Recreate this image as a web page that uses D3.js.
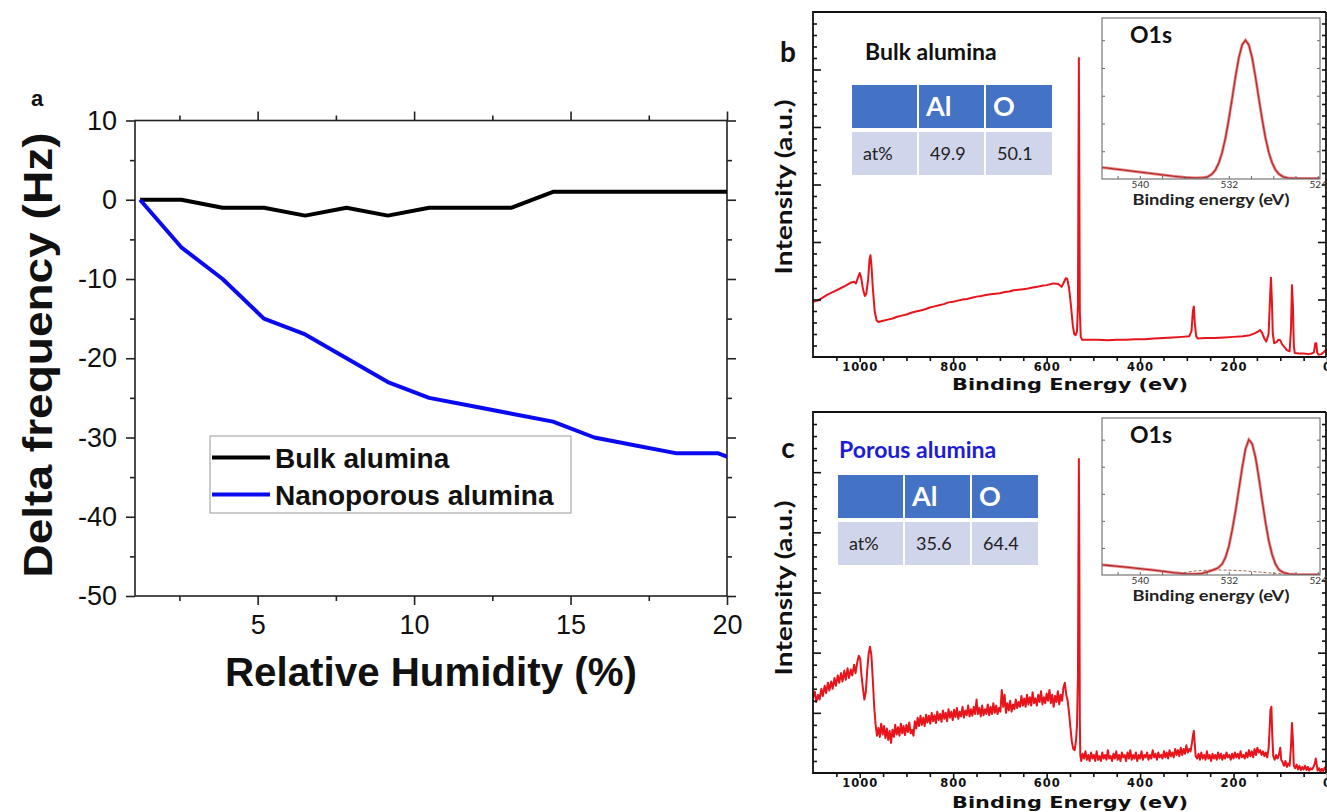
<!DOCTYPE html>
<html>
<head>
<meta charset="utf-8">
<script src="https://cdn.jsdelivr.net/npm/d3@7"></script>
<style>
  body { margin: 0; background: #fff; }
  svg { display: block; }
</style>
</head>
<body>
<script>
// ---------------- data ----------------
// panel a : QCM frequency shift vs relative humidity
const humidity = [1.24, 2.56, 3.88, 5.2, 6.52, 7.84, 9.16, 10.48, 11.8, 13.12, 14.44, 15.76, 17.08, 18.4, 19.72, 21.04];
const bulkShift = [0, 0, -1, -1, -2, -1, -2, -1, -1, -1, 1, 1, 1, 1, 1, 1];
const porousShift = [0, -6, -10, -15, -17, -20, -23, -25, -26, -27, -28, -30, -31, -32, -32, -34];
const seriesNames = ["Bulk alumina", "Nanoporous alumina"];
const rhTicks = [5, 10, 15, 20];
const rhMinor = [2.5, 7.5, 12.5, 17.5];
const dfTicks = [-50, -40, -30, -20, -10, 0, 10];
const dfMinor = [-45, -35, -25, -15, -5, 5];

// panels b, c : XPS survey [binding energy eV, intensity a.u.]
const bulkSurvey = [[1100,0.96],[1090,0.98],[1080,1.03],[1070,1.08],[1060,1.12],[1050,1.16],[1040,1.2],[1030,1.24],[1020,1.29],
 [1012,1.31],[1008,1.28],[1003,1.4],[1000,1.46],[997,1.38],[993,1.18],[989,1.06],[986,1.1],[982,1.35],[979,1.7],[977,1.77],
 [975,1.6],[972,1.2],[968,0.8],[964,0.64],[960,0.61],[950,0.63],[940,0.65],[930,0.67],[920,0.7],[910,0.72],[900,0.74],
 [890,0.77],[880,0.79],[870,0.81],[860,0.83],[850,0.86],[840,0.88],[830,0.9],[820,0.92],[810,0.95],[800,0.96],[790,0.98],
 [780,1.0],[770,1.01],[760,1.03],[750,1.05],[740,1.06],[730,1.08],[720,1.09],[710,1.1],[700,1.11],[690,1.13],[680,1.14],
 [670,1.16],[660,1.17],[650,1.18],[640,1.19],[630,1.21],[620,1.22],[610,1.24],[600,1.25],[590,1.27],[585,1.28],[575,1.27],
 [568,1.22],[563,1.3],[559,1.37],[556,1.36],[552,1.2],[548,0.9],[544,0.55],[541,0.4],[538,0.38],[535,0.45],[533,0.9],
 [532,3.0],[531,5.2],[530,3.0],[529,0.8],[527,0.35],[524,0.3],[510,0.3],[490,0.3],[470,0.29],[450,0.3],[430,0.3],[410,0.31],
 [390,0.31],[370,0.32],[350,0.33],[330,0.34],[310,0.35],[295,0.36],[290,0.45],[287,0.8],[285,0.88],[283,0.6],[280,0.36],
 [277,0.32],[260,0.33],[240,0.33],[220,0.34],[200,0.35],[180,0.36],[165,0.38],[155,0.41],[148,0.44],[143,0.47],[139,0.42],
 [134,0.32],[130,0.27],[125,0.4],[122,1.0],[120,1.38],[118,1.0],[116,0.4],[113,0.24],[108,0.26],[104,0.3],[100,0.29],[96,0.22],
 [91,0.17],[86,0.12],[80,0.1],[77,0.5],[75,1.25],[73,0.9],[71,0.2],[69,0.07],[60,0.06],[50,0.06],[40,0.05],[33,0.06],[28,0.08],
 [25,0.24],[23,0.24],[21,0.08],[18,0.04],[12,0.05],[6,0.09],[2,0.13]];

const porousSurvey = [[1100,1.25],[1096,1.35],[1093,1.18],[1089,1.3],[1086,1.22],[1082,1.4],[1079,1.28],[1075,1.45],[1072,1.33],
 [1068,1.5],[1065,1.37],[1061,1.52],[1058,1.4],[1054,1.58],[1051,1.45],[1047,1.62],[1044,1.5],[1040,1.66],[1037,1.52],[1033,1.7],
 [1030,1.55],[1026,1.74],[1023,1.58],[1019,1.72],[1016,1.62],[1012,1.8],[1009,1.66],[1005,1.85],[1002,1.95],[999,1.9],[996,1.6],
 [993,1.4],[990,1.22],[987,1.35],[984,1.7],[981,1.98],[978,2.1],[975,1.95],[972,1.55],[969,1.1],[966,0.8],[963,0.62],[960,0.75],
 [957,0.6],[954,0.82],[951,0.64],[948,0.78],[945,0.58],[942,0.74],[939,0.55],[936,0.7],[933,0.5],[930,0.72],[927,0.6],[924,0.8],
 [921,0.64],[918,0.76],[915,0.62],[912,0.82],[909,0.66],[906,0.78],[903,0.63],[900,0.8],[897,0.68],[894,0.84],[891,0.66],
 [888,0.72],[885,0.62],[882,0.86],[879,0.74],[876,0.92],[873,0.78],[870,0.95],[867,0.8],[864,0.92],[861,0.78],[858,0.97],
 [855,0.84],[852,0.95],[849,0.82],[846,1.0],[843,0.86],[840,0.96],[837,0.83],[834,1.02],[831,0.88],[828,0.98],[825,0.85],
 [822,1.04],[819,0.9],[816,1.0],[813,0.86],[810,1.06],[807,0.92],[804,1.02],[801,0.88],[798,1.05],[795,0.93],[792,1.08],
 [789,0.9],[786,1.02],[783,0.94],[780,1.1],[777,0.92],[774,1.04],[771,0.96],[768,1.12],[765,0.94],[762,1.06],[759,0.95],
 [756,1.1],[753,0.98],[750,1.22],[747,0.98],[744,1.08],[741,0.94],[738,1.12],[735,0.96],[732,1.06],[729,0.98],[726,1.14],
 [723,0.96],[720,1.1],[717,0.98],[714,1.16],[711,1.0],[708,1.12],[705,0.98],[702,1.08],[699,1.02],[696,1.38],[693,1.1],
 [690,1.3],[687,1.0],[684,1.16],[681,1.04],[678,1.2],[675,1.02],[672,1.14],[669,1.06],[666,1.22],[663,1.08],[660,1.18],
 [657,1.1],[654,1.28],[651,1.12],[648,1.24],[645,1.1],[642,1.3],[639,1.14],[636,1.26],[633,1.12],[630,1.34],[627,1.16],
 [624,1.24],[621,1.12],[618,1.3],[615,1.18],[612,1.36],[609,1.14],[606,1.26],[603,1.16],[600,1.32],[597,1.2],[594,1.38],
 [591,1.16],[588,1.3],[585,1.1],[582,1.28],[579,1.18],[576,1.36],[573,1.14],[570,1.3],[567,1.2],[564,1.42],[561,1.5],
 [558,1.3],[555,1.2],[552,1.0],[549,0.75],[546,0.52],[543,0.4],[540,0.38],[537,0.55],[535,0.8],[533,1.6],[532,3.5],[531,5.22],
 [530,3.5],[529,0.9],[528,0.3],[526,0.2],[523,0.32],[520,0.24],[517,0.36],[514,0.22],[511,0.3],[508,0.2],[505,0.34],[502,0.24],
 [499,0.3],[496,0.2],[493,0.36],[490,0.22],[487,0.28],[484,0.2],[481,0.34],[478,0.24],[475,0.3],[472,0.22],[469,0.38],[466,0.24],
 [463,0.28],[460,0.2],[457,0.32],[454,0.24],[451,0.36],[448,0.22],[445,0.3],[442,0.2],[439,0.34],[436,0.26],[433,0.3],[430,0.2],
 [427,0.34],[424,0.24],[421,0.38],[418,0.22],[415,0.3],[412,0.24],[409,0.34],[406,0.2],[403,0.3],[400,0.24],[397,0.36],[394,0.22],
 [391,0.3],[388,0.26],[385,0.34],[382,0.22],[379,0.3],[376,0.24],[373,0.38],[370,0.26],[367,0.32],[364,0.22],[361,0.34],[358,0.26],
 [355,0.3],[352,0.24],[349,0.36],[346,0.26],[343,0.34],[340,0.24],[337,0.38],[334,0.28],[331,0.34],[328,0.26],[325,0.4],[322,0.3],
 [319,0.38],[316,0.28],[313,0.42],[310,0.3],[307,0.4],[304,0.32],[301,0.46],[298,0.34],[295,0.4],[292,0.36],[289,0.5],[287,0.62],
 [285,0.7],[283,0.48],[281,0.28],[278,0.24],[275,0.32],[272,0.22],[269,0.34],[266,0.24],[263,0.3],[260,0.22],[257,0.36],[254,0.24],
 [251,0.3],[248,0.2],[245,0.32],[242,0.24],[239,0.3],[236,0.22],[233,0.34],[230,0.24],[227,0.32],[224,0.22],[221,0.3],[218,0.24],
 [215,0.34],[212,0.26],[209,0.3],[206,0.22],[203,0.32],[200,0.24],[197,0.34],[194,0.26],[191,0.32],[188,0.24],[185,0.36],[182,0.26],
 [179,0.3],[176,0.24],[173,0.34],[170,0.26],[167,0.38],[164,0.28],[161,0.36],[158,0.26],[155,0.4],[152,0.3],[149,0.42],[146,0.34],
 [143,0.38],[140,0.3],[137,0.36],[134,0.28],[131,0.34],[128,0.26],[125,0.4],[123,0.7],[121,1.05],[119,1.1],[117,0.6],[115,0.28],
 [112,0.22],[109,0.3],[106,0.24],[103,0.3],[100,0.42],[98,0.22],[95,0.18],[92,0.12],[89,0.2],[86,0.1],[83,0.16],[80,0.12],
 [77,0.45],[75,0.83],[73,0.55],[71,0.12],[68,0.08],[65,0.14],[62,0.06],[59,0.12],[56,0.05],[53,0.1],[50,0.06],[47,0.12],
 [44,0.05],[41,0.1],[38,0.04],[35,0.08],[32,0.06],[29,0.1],[26,0.16],[24,0.24],[22,0.14],[20,0.04],[17,0.08],[14,0.02],
 [11,0.07],[8,0.03],[5,0.09],[2,0.06],[0,0.1]];

// O1s high-resolution insets [eV, normalised intensity]
const bulkO1s = [[544.5,0.088],[543,0.08],[542,0.07],[541,0.06],[540,0.05],[539,0.04],[538,0.03],[537,0.02],[536,0.012],[535,0.008],
 [534.3,0.01],[533.9,0.016],[533.5,0.036],[533.2,0.066],[532.9,0.115],[532.6,0.19],[532.3,0.295],[532.0,0.43],[531.7,0.58],
 [531.4,0.735],[531.1,0.873],[530.8,0.967],[530.5,1.0],[530.2,0.967],[529.9,0.873],[529.6,0.735],[529.3,0.58],[529.0,0.43],
 [528.7,0.295],[528.4,0.19],[528.1,0.115],[527.8,0.066],[527.5,0.036],[527.1,0.016],[526.7,0.008],[526,0.005],[525,0.004],[523,0.004]];
const porousO1s = [[544.5,0.085],[543,0.072],[542,0.064],[541,0.056],[540,0.047],[539,0.038],[538,0.028],[537,0.018],[536,0.01],
 [535,0.008],[534.4,0.012],[534,0.022],[533.5,0.035],[533,0.05],[532.6,0.08],[532.3,0.13],[532.0,0.21],[531.7,0.33],[531.4,0.47],
 [531.1,0.63],[530.8,0.79],[530.5,0.93],[530.2,1.0],[529.9,0.97],[529.6,0.87],[529.3,0.72],[529.0,0.55],[528.7,0.39],[528.4,0.25],
 [528.1,0.15],[527.8,0.08],[527.5,0.04],[527.1,0.018],[526.6,0.008],[526,0.005],[525,0.003],[523,0.003]];
const porousO1sBg = [[536.5,0.012],[535,0.03],[533.5,0.038],[532,0.036],[530.5,0.03],[529,0.02],[527.5,0.01],[526.5,0.005]];

const elements = ["Al", "O"];
const bulkAt = ["49.9", "50.1"];
const porousAt = ["35.6", "64.4"];
const beTicks = [1000, 800, 600, 400, 200, 0];
const o1sTicks = [540, 532, 524];

// ---------------- drawing ----------------
const svg = d3.select("body").append("svg")
  .attr("width", 1327).attr("height", 812);

// ===== panel a =====
const A = { l: 135, r: 727, t: 120.5, b: 596 };
const xa = d3.scaleLinear().domain([1.08, 20]).range([A.l, A.r]);
const ya = d3.scaleLinear().domain([-50, 10]).range([A.b, A.t]);
const ga = svg.append("g").style("font-family", "'Liberation Sans', Arial, sans-serif");

ga.append("g").attr("transform", `translate(0,${A.b})`)
  .call(d3.axisBottom(xa).tickValues(rhTicks).tickSize(9).tickPadding(10).tickFormat(d => String(d)));
ga.append("g").attr("transform", `translate(0,${A.b})`)
  .call(d3.axisBottom(xa).tickValues(rhMinor).tickSize(5).tickFormat(""));
ga.append("g").attr("transform", `translate(0,${A.t})`)
  .call(d3.axisTop(xa).tickValues(rhTicks).tickSize(9).tickFormat(""));
ga.append("g").attr("transform", `translate(0,${A.t})`)
  .call(d3.axisTop(xa).tickValues(rhMinor).tickSize(5).tickFormat(""));
ga.append("g").attr("transform", `translate(${A.l},0)`)
  .call(d3.axisLeft(ya).tickValues(dfTicks).tickSize(9).tickPadding(9).tickFormat(d => String(d)));
ga.append("g").attr("transform", `translate(${A.l},0)`)
  .call(d3.axisLeft(ya).tickValues(dfMinor).tickSize(5).tickFormat(""));
ga.append("g").attr("transform", `translate(${A.r},0)`)
  .call(d3.axisRight(ya).tickValues(dfTicks).tickSize(9).tickFormat(""));
ga.append("g").attr("transform", `translate(${A.r},0)`)
  .call(d3.axisRight(ya).tickValues(dfMinor).tickSize(5).tickFormat(""));
ga.selectAll(".domain").remove();
ga.selectAll(".tick line").attr("stroke", "#222").attr("stroke-width", 1.6);
ga.selectAll(".tick text").attr("font-size", 27).attr("fill", "#111")
  .attr("font-family", "'Liberation Sans', Arial, sans-serif");

ga.append("rect").attr("x", A.l).attr("y", A.t).attr("width", A.r - A.l).attr("height", A.b - A.t)
  .attr("fill", "none").attr("stroke", "#222").attr("stroke-width", 1.6);

svg.append("clipPath").attr("id", "clipA").append("rect")
  .attr("x", A.l).attr("y", A.t).attr("width", A.r - A.l).attr("height", A.b - A.t);

const lineA = d3.line().x((d, i) => xa(humidity[i])).y(d => ya(d));
ga.append("path").datum(bulkShift).attr("d", lineA).attr("clip-path", "url(#clipA)")
  .attr("fill", "none").attr("stroke", "#000").attr("stroke-width", 4).attr("stroke-linejoin", "round");
ga.append("path").datum(porousShift).attr("d", lineA).attr("clip-path", "url(#clipA)")
  .attr("fill", "none").attr("stroke", "#0a0af0").attr("stroke-width", 4).attr("stroke-linejoin", "round");

// legend
const leg = ga.append("g");
leg.append("rect").attr("x", 210).attr("y", 436).attr("width", 361).attr("height", 77)
  .attr("fill", "#fff").attr("stroke", "#999").attr("stroke-width", 1);
[["#000", 457.5], ["#0a0af0", 494.5]].forEach((s, i) => {
  leg.append("line").attr("x1", 212).attr("x2", 270).attr("y1", s[1]).attr("y2", s[1])
    .attr("stroke", s[0]).attr("stroke-width", 4);
  leg.append("text").attr("x", 275).attr("y", s[1]).attr("dy", "0.36em")
    .attr("font-size", 28).attr("font-weight", "bold").attr("fill", "#111")
    .text(seriesNames[i]);
});

ga.append("text").attr("x", 431).attr("y", 686).attr("text-anchor", "middle")
  .attr("font-size", 40).attr("font-weight", "bold").attr("fill", "#111")
  .attr("textLength", 412).attr("lengthAdjust", "spacingAndGlyphs")
  .text("Relative Humidity (%)");
ga.append("text").attr("transform", "translate(52,355) rotate(-90)").attr("text-anchor", "middle")
  .attr("font-size", 40).attr("font-weight", "bold").attr("fill", "#111")
  .attr("textLength", 445).attr("lengthAdjust", "spacingAndGlyphs")
  .text("Delta frequency (Hz)");
ga.append("text").attr("x", 37).attr("y", 106).attr("text-anchor", "middle")
  .attr("font-size", 22).attr("font-weight", "bold").attr("fill", "#111").text("a");

// ===== panels b, c =====
const X0 = 813, X1 = 1326;
const xs = d3.scaleLinear().domain([1100, 0]).range([X0, 1327]);
const beMinor = d3.range(50, 1100, 50).filter(v => v % 200 !== 0);

function drawSurvey(p) {
  const g = svg.append("g");
  const ys = d3.scaleLinear().domain([0, 6]).range([p.bottom, p.top]);
  const yMinor = d3.range(0.2, 6, 0.2).filter(v => Math.abs(v - Math.round(v)) > 0.05);
  const clipId = "clip" + p.letter;
  svg.append("clipPath").attr("id", clipId).append("rect")
    .attr("x", X0).attr("y", p.top).attr("width", X1 - X0).attr("height", p.bottom - p.top);

  // spectrum
  g.append("path").datum(p.survey)
    .attr("d", d3.line().x(d => xs(d[0])).y(d => ys(d[1])))
    .attr("clip-path", `url(#${clipId})`)
    .attr("fill", "none").attr("stroke", "#e8141b").attr("stroke-width", 2).attr("stroke-linejoin", "round");

  // axes
  const ax = g.append("g").style("font-family", "'DejaVu Sans', Verdana, sans-serif");
  ax.append("g").attr("transform", `translate(0,${p.bottom})`)
    .call(d3.axisBottom(xs).tickValues(beTicks).tickSize(5).tickPadding(1).tickFormat(d => String(d)));
  ax.append("g").attr("transform", `translate(0,${p.bottom})`)
    .call(d3.axisBottom(xs).tickValues(beMinor).tickSize(4).tickFormat(""));
  ax.append("g").attr("transform", `translate(${X0},0)`)
    .call(d3.axisRight(ys).tickValues([1, 2, 3, 4, 5]).tickSize(8).tickFormat(""));
  ax.append("g").attr("transform", `translate(${X0},0)`)
    .call(d3.axisRight(ys).tickValues(yMinor).tickSize(4).tickFormat(""));
  ax.append("g").attr("transform", `translate(${X1},0)`)
    .call(d3.axisLeft(ys).tickValues([1, 2, 3, 4, 5]).tickSize(8).tickFormat(""));
  ax.append("g").attr("transform", `translate(${X1},0)`)
    .call(d3.axisLeft(ys).tickValues(yMinor).tickSize(4).tickFormat(""));
  ax.selectAll(".domain").remove();
  ax.selectAll(".tick line").attr("stroke", "#111").attr("stroke-width", 1.6);
  ax.selectAll(".tick text").attr("font-size", 11.5).attr("font-weight", "bold").attr("fill", "#111")
    .attr("letter-spacing", 1).attr("font-family", "'DejaVu Sans', Verdana, sans-serif");
  ax.append("path")
    .attr("d", `M${X1},${p.top}H${X0}V${p.bottom}H${X1}`)
    .attr("fill", "none").attr("stroke", "#111").attr("stroke-width", 1.8);
  ax.append("line").attr("x1", X1).attr("x2", X1).attr("y1", p.top).attr("y2", p.bottom)
    .attr("stroke", "#111").attr("stroke-width", 1.8);

  ax.append("text").attr("x", 1070).attr("y", p.bottom + p.titleOff).attr("text-anchor", "middle")
    .attr("font-size", 15).attr("font-weight", "bold").attr("fill", "#111")
    .attr("textLength", 236).attr("lengthAdjust", "spacingAndGlyphs")
    .text("Binding Energy (eV)");

  const tf = "Lato, 'Open Sans', sans-serif";
  g.append("text").attr("transform", `translate(792,${p.ylabelY}) rotate(-90)`).attr("text-anchor", "middle")
    .attr("font-family", tf).attr("font-size", 23).attr("font-weight", "bold").attr("fill", "#111")
    .attr("textLength", 175).attr("lengthAdjust", "spacingAndGlyphs")
    .text("Intensity (a.u.)");
  g.append("text").attr("x", 788).attr("y", p.letterY).attr("text-anchor", "middle")
    .attr("font-family", tf).attr("font-size", 28).attr("font-weight", "bold").attr("fill", "#111")
    .text(p.letter);
  g.append("text").attr("x", p.titleX).attr("y", p.titleY)
    .attr("font-family", tf).attr("font-size", 23).attr("font-weight", "bold").attr("fill", p.titleColor)
    .text(p.title);

  // composition table
  const tb = g.append("g").attr("font-family", tf);
  const cols = p.cols, rh = 43;
  const hdr = ["", ...elements], row = ["at%", ...p.at];
  cols.forEach((c, i) => {
    tb.append("rect").attr("x", c[0]).attr("y", p.tableY).attr("width", c[1] - c[0]).attr("height", rh)
      .attr("fill", "#4472c4");
    tb.append("rect").attr("x", c[0]).attr("y", p.tableY + rh + 4).attr("width", c[1] - c[0]).attr("height", rh)
      .attr("fill", "#cfd5ea");
    tb.append("text").attr("x", c[0] + 7).attr("y", p.tableY + rh / 2).attr("dy", "0.36em")
      .attr("font-size", 27).attr("font-weight", "bold").attr("fill", "#fff").text(hdr[i]);
    tb.append("text").attr("x", c[0] + 11).attr("y", p.tableY + rh + 4 + rh / 2).attr("dy", "0.36em")
      .attr("font-size", 18).attr("fill", "#222").text(row[i]);
  });

  // O1s inset
  const I = { l: 1102, r: 1320, t: p.insetTop, b: p.insetBottom };
  const xi = d3.scaleLinear().domain([543.4, 523.8]).range([I.l, I.r]);
  const yi = d3.scaleLinear().domain([0, 1.16]).range([I.b, I.t]);
  const gi = g.append("g");
  gi.append("rect").attr("x", I.l - 2).attr("y", I.t - 2).attr("width", I.r - I.l + 4).attr("height", I.b - I.t + 34)
    .attr("fill", "#fff");
  const clipI = "clipI" + p.letter;
  svg.append("clipPath").attr("id", clipI).append("rect")
    .attr("x", I.l).attr("y", I.t).attr("width", I.r - I.l).attr("height", I.b - I.t);
  const li = d3.line().x(d => xi(d[0])).y(d => yi(d[1]));
  if (p.o1sBg) {
    gi.append("path").datum(p.o1sBg).attr("d", li).attr("clip-path", `url(#${clipI})`)
      .attr("fill", "none").attr("stroke", "#9a6a50").attr("stroke-width", 1).attr("stroke-dasharray", "3,2");
  }
  gi.append("path").datum(p.o1s).attr("d", li).attr("clip-path", `url(#${clipI})`)
    .attr("fill", "none").attr("stroke", "#e89090").attr("stroke-width", 3);
  gi.append("path").datum(p.o1s).attr("d", li).attr("clip-path", `url(#${clipI})`)
    .attr("fill", "none").attr("stroke", "#b52a2a").attr("stroke-width", 1.3);

  const ai = gi.append("g").style("font-family", tf);
  ai.append("g").attr("transform", `translate(0,${I.b})`)
    .call(d3.axisTop(xi).tickValues(d3.range(524, 544, 2)).tickSize(3).tickFormat(""));
  ai.append("g").attr("transform", `translate(0,${I.b})`)
    .call(d3.axisBottom(xi).tickValues(o1sTicks).tickSize(0).tickPadding(2).tickFormat(d => String(d)));
  ai.append("g").attr("transform", `translate(${I.l},0)`)
    .call(d3.axisRight(yi).tickValues([0.2, 0.4, 0.6, 0.8, 1.0]).tickSize(3).tickFormat(""));
  ai.append("g").attr("transform", `translate(${I.r},0)`)
    .call(d3.axisLeft(yi).tickValues([0.2, 0.4, 0.6, 0.8, 1.0]).tickSize(3).tickFormat(""));
  ai.selectAll(".domain").remove();
  ai.selectAll(".tick line").attr("stroke", "#666").attr("stroke-width", 1);
  ai.selectAll(".tick text").attr("font-size", 10).attr("fill", "#333").attr("font-family", tf);
  ai.append("rect").attr("x", I.l).attr("y", I.t).attr("width", I.r - I.l).attr("height", I.b - I.t)
    .attr("fill", "none").attr("stroke", "#777").attr("stroke-width", 1.2);
  ai.append("text").attr("x", 1211).attr("y", I.b + 26).attr("text-anchor", "middle")
    .attr("font-size", 16).attr("font-weight", "bold").attr("fill", "#222")
    .attr("textLength", 157).attr("lengthAdjust", "spacingAndGlyphs")
    .text("Binding energy (eV)");
  ai.append("text").attr("x", 1130).attr("y", I.t + 25)
    .attr("font-size", 23).attr("font-weight", "bold").attr("fill", "#111").text("O1s");
}

drawSurvey({
  letter: "b", top: 12, bottom: 357, survey: bulkSurvey, titleOff: 33,
  ylabelY: 187, letterY: 62,
  title: "Bulk alumina", titleColor: "#111", titleX: 865, titleY: 60,
  cols: [[852, 917], [919, 984], [986, 1052]], tableY: 85, at: bulkAt,
  insetTop: 18, insetBottom: 179, o1s: bulkO1s
});
drawSurvey({
  letter: "c", top: 412, bottom: 773, survey: porousSurvey, titleOff: 35,
  ylabelY: 588, letterY: 458,
  title: "Porous alumina", titleColor: "#1c1cd8", titleX: 839, titleY: 458,
  cols: [[838, 903], [905, 970], [972, 1038]], tableY: 475, at: porousAt,
  insetTop: 418, insetBottom: 575, o1s: porousO1s, o1sBg: porousO1sBg
});
</script>
</body>
</html>
